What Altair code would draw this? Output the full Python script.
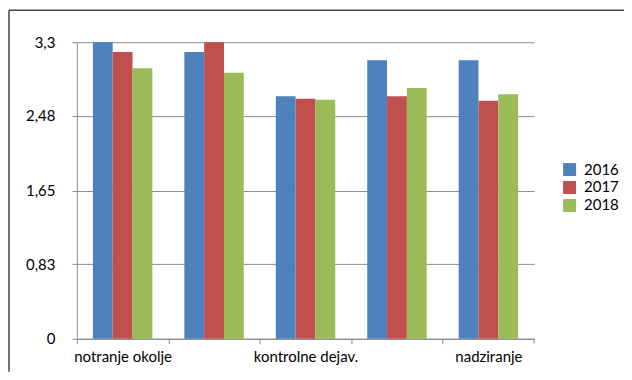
import altair as alt
import pandas as pd

categories = ["notranje okolje", "ocena tveganja", "kontrolne dejav.",
              "informiranje in komuniciranje", "nadziranje"]
years = ["2016", "2017", "2018"]
v2016 = [3.30, 3.19, 2.70, 3.10, 3.10]
v2017 = [3.19, 3.30, 2.67, 2.70, 2.65]
v2018 = [3.01, 2.96, 2.66, 2.79, 2.72]
y_ticks = [0, 0.83, 1.65, 2.48, 3.3]
colors = ["#4F81BD", "#C0504D", "#9BBB59"]
shown_labels = ["notranje okolje", "kontrolne dejav.", "nadziranje"]

rows = []
for yr, vals in zip(years, [v2016, v2017, v2018]):
    for c, v in zip(categories, vals):
        rows.append({"cat": c, "year": yr, "value": v})
df = pd.DataFrame(rows)

W, H = 458, 297
FONT = "Lato"

label_test = " || ".join([f"datum.label == '{s}'" for s in shown_labels])

bars = alt.Chart(df).mark_bar().encode(
    x=alt.X("cat:N", sort=categories,
            scale=alt.Scale(paddingInner=0.35, paddingOuter=0.175),
            axis=alt.Axis(title=None, labelAngle=0, tickOffset=-W / 10, labelOffset=W / 10,
                          labelExpr=f"({label_test}) ? datum.label : ''",
                          domainColor="#8c8c8c", tickColor="#8c8c8c", tickSize=5,
                          labelFont=FONT, labelFontSize=15, labelColor="#000",
                          labelPadding=6, grid=False, labelOverlap=False)),
    xOffset=alt.XOffset("year:N", sort=years),
    y=alt.Y("value:Q", scale=alt.Scale(domain=[0, 3.3], nice=False, zero=True),
            axis=alt.Axis(title=None, values=y_ticks,
                          labelExpr="replace(toString(datum.value), '.', ',')",
                          grid=True, gridColor="#8c8c8c", gridWidth=1,
                          domainColor="#8c8c8c", tickColor="#8c8c8c", tickSize=5,
                          labelFont=FONT, labelFontSize=15, labelColor="#000",
                          labelPadding=17)),
    color=alt.Color("year:N", sort=years,
                    scale=alt.Scale(domain=years, range=colors),
                    legend=alt.Legend(title=None, orient="none", legendX=486, legendY=120,
                                      symbolType="square", symbolSize=169,
                                      symbolStrokeWidth=0, labelFont=FONT,
                                      labelFontSize=15, labelColor="#000",
                                      labelOffset=7, rowPadding=2)),
)

one = pd.DataFrame({"a": [0]})
frame_top = alt.Chart(one).mark_rule(color="#444", strokeWidth=1.5).encode(
    x=alt.value(-68), x2=alt.value(W + 90), y=alt.value(-32))
frame_left = alt.Chart(one).mark_rule(color="#444", strokeWidth=1.5).encode(
    x=alt.value(-68), y=alt.value(-32), y2=alt.value(H + 33))
end_tick = alt.Chart(one).mark_rule(color="#8c8c8c").encode(
    x=alt.value(W), y=alt.value(H), y2=alt.value(H + 5))

chart = alt.layer(bars, end_tick, frame_top, frame_left).properties(
    width=W, height=H,
    background="white",
    autosize=alt.AutoSizeParams(type="none"),
    padding={"left": 69, "top": 34, "right": 90, "bottom": 33},
).configure_view(stroke="transparent", strokeWidth=0)

chart.save("out.html", embed_options={"renderer": "svg", "actions": False})
